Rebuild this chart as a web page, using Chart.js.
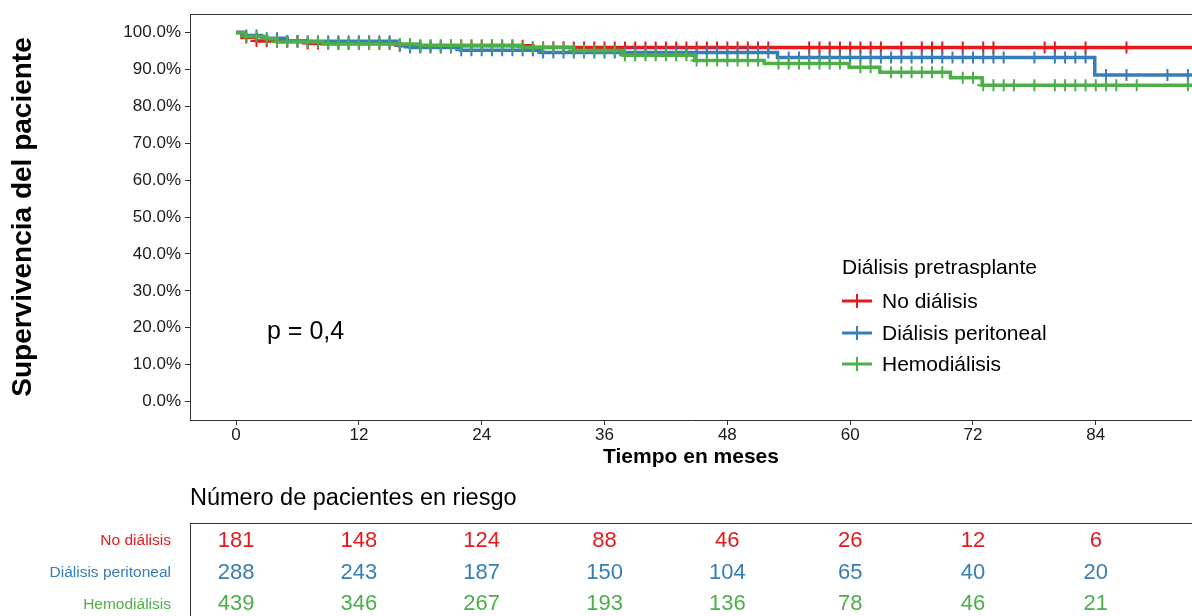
<!DOCTYPE html>
<html lang="es">
<head>
<meta charset="utf-8">
<title>Supervivencia del paciente</title>
<script src="https://cdn.jsdelivr.net/npm/chart.js@4.4.1/dist/chart.umd.min.js"></script>
<style>
  html, body { margin: 0; padding: 0; background: #fff; }
  body { width: 1192px; height: 616px; position: relative; overflow: hidden;
         font-family: Arial, "Liberation Sans", sans-serif; color: #000; }
  canvas { position: absolute; left: 0; display: block; }
  #km { top: 0; }
  #risk { top: 470px; }
  .txt { position: absolute; white-space: nowrap; }
  .pval { left: 267px; top: 315px; font-size: 25px; line-height: 30px; }
  .leg-title { left: 842px; top: 253px; font-size: 21px; line-height: 28px; }
  .leg-row { left: 842px; font-size: 21px; line-height: 28px; display: flex; align-items: center; }
  .leg-row svg { margin-right: 10px; }
  .risk-title { left: 190px; top: 483px; font-size: 23.5px; line-height: 28px; }
</style>
</head>
<body>
<canvas id="km" width="1192" height="470"></canvas>
<canvas id="risk" width="1192" height="146"></canvas>

<div class="txt pval">p = 0,4</div>
<div class="txt leg-title">Diálisis pretrasplante</div>
<div id="legend"></div>
<div class="txt risk-title">Número de pacientes en riesgo</div>

<script>
/* ── data ───────────────────────────────────────────────── */
const groupNames  = ['No diálisis', 'Diálisis peritoneal', 'Hemodiálisis'];
const groupColors = ['#E41A1C', '#377EB8', '#4DAF4A'];

const xTicks = [0, 12, 24, 36, 48, 60, 72, 84];
const yTicks = [0, 10, 20, 30, 40, 50, 60, 70, 80, 90, 100];
const xMin = -4.5, xMax = 93.4;

// Kaplan-Meier steps (months, % survival)
const noDialTime = [0, 0.6, 2, 7, 16, 29];
const noDialSurv = [100, 98.6, 97.7, 97.0, 96.4, 95.9];
const noDialCens = [1,2,3,4,5,6,7,8,9,10,11,12,13,14,15,16,17,18,19,20,21,22,23,24,25,26,
  27,28,29,30,31,32,33,34,35,36,37,38,39,40,41,42,43,44,45,46,47,48,49,50,51,52,
  56,57,58,59,60,61,62,63,65,67,68,69,71,73,74,79,80,83,87];

const periTime = [0, 0.8, 2.5, 5, 15.7, 17, 22, 29.7, 52.9, 83.9];
const periSurv = [100, 99.2, 98.4, 97.6, 96.6, 95.9, 95.2, 94.6, 93.2, 88.5];
const periCens = [1,2,3,4,5,6,7,8,9,10,11,12,13,14,15,16,17,18,19,20,21,22,23,24,25,26,
  27,28,29,30,31,32,33,34,35,36,37,38,39,40,41,42,43,44,45,46,47,48,49,50,51,52,
  54,55,56,57,58,59,60,61,62,63,64,65,66,67,68,69,70,71,72,73,74,75,78,80,81,82,83,
  85,87,91,93];

const hemoTime = [0, 0.9, 3, 4, 8.5, 18, 28, 33, 37.8, 44.8, 51.6, 59.9, 62.9, 69.8, 72.9];
const hemoSurv = [100, 98.9, 98.3, 97.4, 96.9, 96.5, 96.0, 95.1, 93.8, 92.4, 91.6, 90.6, 89.2, 87.7, 85.7];
const hemoCens = [1,2,3,4,5,6,7,8,9,10,11,12,13,14,15,16,17,18,19,20,21,22,23,24,25,26,
  27,28,29,30,31,32,33,34,35,36,37,38,39,40,41,42,43,44,45,46,47,48,49,50,51,
  53,54,55,56,57,58,59,61,62,64,65,66,67,68,69,71,72,73,74,75,76,78,80,81,82,83,84,
  85,86,88,93];

// patients at risk at each xTick
const riskNoDial = [181, 148, 124, 88, 46, 26, 12, 6];
const riskPeri   = [288, 243, 187, 150, 104, 65, 40, 20];
const riskHemo   = [439, 346, 267, 193, 136, 78, 46, 21];

/* ── helpers ────────────────────────────────────────────── */
Chart.defaults.font.family = 'Arial, "Liberation Sans", sans-serif';
Chart.defaults.color = '#1a1a1a';

// step points + censor marks, censor y = last step value at or before it
function kmPoints(times, surv, cens) {
  const pts = times.map((t, i) => ({ x: t, y: surv[i], c: false }));
  cens.forEach(c => {
    let s = surv[0];
    times.forEach((t, i) => { if (t <= c) s = surv[i]; });
    pts.push({ x: c, y: s, c: true });
  });
  pts.push({ x: xMax, y: surv[surv.length - 1], c: false });
  return pts.sort((a, b) => a.x - b.x);
}

// no label overhang padding, keeps the plot box where we put it
function noOverhang(s) {
  s.paddingTop = 0; s.paddingBottom = 0;
}

const topFrame = {
  id: 'topFrame',
  afterDraw(chart) {
    const { ctx, chartArea: a } = chart;
    ctx.save();
    ctx.strokeStyle = '#333';
    ctx.lineWidth = 1;
    ctx.beginPath();
    ctx.moveTo(a.left, a.top + 0.5);
    ctx.lineTo(a.right, a.top + 0.5);
    ctx.stroke();
    ctx.restore();
  }
};

/* ── survival chart ─────────────────────────────────────── */
const series = [
  [noDialTime, noDialSurv, noDialCens],
  [periTime, periSurv, periCens],
  [hemoTime, hemoSurv, hemoCens],
];

new Chart(document.getElementById('km'), {
  type: 'line',
  data: {
    datasets: series.map(([t, s, c], i) => ({
      label: groupNames[i],
      data: kmPoints(t, s, c),
      borderColor: groupColors[i],
      backgroundColor: groupColors[i],
      borderWidth: 3.5,
      stepped: true,
      fill: false,
      order: 3 - i,
      pointStyle: 'cross',
      pointRadius: ctx => (ctx.raw && ctx.raw.c) ? 6 : 0,
      pointBorderWidth: 2,
      pointBorderColor: groupColors[i],
    })),
  },
  options: {
    responsive: false,
    animation: false,
    events: [],
    layout: { padding: { top: 14, right: 0, bottom: 0, left: 0 } },
    plugins: { legend: { display: false }, tooltip: { enabled: false } },
    scales: {
      x: {
        type: 'linear',
        min: xMin, max: xMax,
        afterBuildTicks: s => { s.ticks = xTicks.map(v => ({ value: v })); },
        afterFit: s => { s.height = 50; s.paddingLeft = 0; s.paddingRight = 0; },
        grid: { drawOnChartArea: false, tickLength: 5, tickColor: '#333' },
        border: { display: true, color: '#333', width: 1 },
        ticks: { font: { size: 17 }, padding: 0, maxRotation: 0, color: '#1a1a1a' },
        title: { display: true, text: 'Tiempo en meses', font: { size: 21, weight: 'bold' },
                 color: '#000', padding: { top: 0, bottom: 0 } },
      },
      y: {
        min: -5, max: 105,
        afterBuildTicks: s => { s.ticks = yTicks.map(v => ({ value: v })); },
        afterFit: s => { s.width = 190; noOverhang(s); },
        grid: { drawOnChartArea: false, tickLength: 5, tickColor: '#333' },
        border: { display: true, color: '#333', width: 1 },
        ticks: { font: { size: 17 }, padding: 4, color: '#1a1a1a',
                 callback: v => v.toFixed(1) + '%' },
        title: { display: true, text: 'Supervivencia del paciente', font: { size: 28, weight: 'bold' },
                 color: '#000', padding: { top: 6, bottom: 0 } },
      },
    },
  },
  plugins: [topFrame],
});

/* ── risk table ─────────────────────────────────────────── */
const riskRows = [riskNoDial, riskPeri, riskHemo];

const riskLabels = {
  id: 'riskLabels',
  afterDatasetsDraw(chart) {
    const { ctx } = chart;
    ctx.save();
    ctx.font = '22px Arial, "Liberation Sans", sans-serif';
    ctx.textAlign = 'center';
    ctx.textBaseline = 'middle';
    chart.data.datasets.forEach((ds, i) => {
      ctx.fillStyle = groupColors[i];
      chart.getDatasetMeta(i).data.forEach((el, j) => {
        ctx.fillText(String(riskRows[i][j]), el.x, el.y);
      });
    });
    ctx.restore();
  }
};

new Chart(document.getElementById('risk'), {
  type: 'scatter',
  data: {
    datasets: riskRows.map((row, i) => ({
      label: groupNames[i],
      data: xTicks.map(t => ({ x: t, y: i + 1 })),
      pointRadius: 0,
      showLine: false,
    })),
  },
  options: {
    responsive: false,
    animation: false,
    events: [],
    layout: { padding: { top: 53, right: 0, bottom: 0, left: 0 } },
    plugins: { legend: { display: false }, tooltip: { enabled: false } },
    scales: {
      x: { type: 'linear', min: xMin, max: xMax, display: false },
      y: {
        min: 0.43, max: 3.37, reverse: true,
        afterBuildTicks: s => { s.ticks = groupNames.map((n, i) => ({ value: i + 1 })); },
        afterFit: s => { s.width = 190; noOverhang(s); },
        grid: { drawOnChartArea: false, drawTicks: false },
        border: { display: true, color: '#333', width: 1 },
        ticks: { font: { size: 15.5 }, padding: 19,
                 color: c => groupColors[Math.round(c.tick.value) - 1],
                 callback: v => groupNames[Math.round(v) - 1] },
      },
    },
  },
  plugins: [topFrame, riskLabels],
});

/* ── legend (inside plot) ───────────────────────────────── */
const legendEl = document.getElementById('legend');
const legendTops = [287, 319, 350];
legendEl.innerHTML = groupNames.map((name, i) => `
  <div class="txt leg-row" style="top:${legendTops[i]}px">
    <svg width="30" height="20" viewBox="0 0 30 20">
      <line x1="0" y1="10" x2="30" y2="10" stroke="${groupColors[i]}" stroke-width="3"/>
      <line x1="15" y1="3" x2="15" y2="17" stroke="${groupColors[i]}" stroke-width="2"/>
    </svg>
    <span>${name}</span>
  </div>`).join('');
</script>
</body>
</html>
